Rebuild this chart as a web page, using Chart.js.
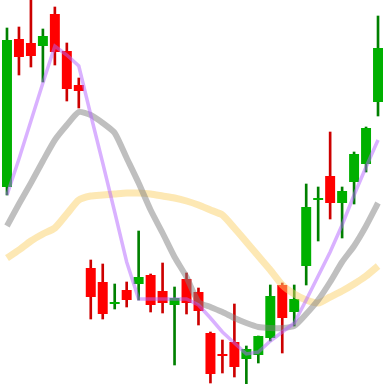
<!DOCTYPE html>
<html>
<head>
<meta charset="utf-8">
<script src="https://cdn.jsdelivr.net/npm/chart.js@4/dist/chart.umd.min.js"></script>
<style>
html,body{margin:0;padding:0;background:#fff;}
#c{display:block;}
</style>
</head>
<body>
<canvas id="c" width="384" height="384"></canvas>
<script>
const labels = Array.from({length: 32}, (_, i) => 'D' + (i + 1));
const opens  = [197,345,341,338,370,333,299,116,102,80,94,100,109,93,79,105,92,51,30,42,25,29,46,99,72,118,184,208,181,202,220,282];
const highs  = [356,357,384,355,377,341,306,124,120,100,102,153,110,121,97,111,96,52,44,80,38,48,99,101,99,200,197,252,197,232,257,368];
const lows   = [189,309,317,302,319,283,276,65,65,75,77,84,72,71,19,70,59,1,11,7,0,21,43,31,58,99,143,165,146,180,212,268];
const closes = [344,327,328,348,332,295,293,87,70,82,84,107,79,81,86,81,73,10,28,17,35,48,88,66,85,177,186,181,193,230,256,336];
const maFast = [189,225,263,301,338,329,318,269,221,172,122,85,85,85,85,85,79,66,52,41,30,32,43,52,61,84,108,132,159,189,217,244];
const maMid  = [158,180,201,223,244,259,272,269,261,251,226,201,174,151,127,107,82,77,72,66,61,57,56,56,58,70,84,102,122,138,158,181];
const maSlow = [126,134,143,150,156,170,184,188,189,190,191,191,190,188,186,183,179,174,169,156,142,128,114,99,90,84,81,87,93,100,108,118];

const up = opens.map((o, i) => closes[i] >= o);
const bodyColors = up.map(u => u ? '#00b000' : '#ff0000');
const wickColors = up.map(u => u ? '#008000' : '#cc0000');

new Chart(document.getElementById('c'), {
  data: {
    labels: labels,
    datasets: [
      {
        type: 'line', label: 'MA slow', data: maSlow, order: 3,
        borderColor: 'rgba(252,210,105,0.5)', borderWidth: 7,
        pointRadius: 0, tension: 0.2, fill: false
      },
      {
        type: 'line', label: 'MA mid', data: maMid, order: 2,
        borderColor: 'rgba(128,128,128,0.5)', borderWidth: 6,
        pointRadius: 0, tension: 0.2, fill: false
      },
      {
        type: 'line', label: 'MA fast', data: maFast, order: 1,
        borderColor: 'rgba(180,100,255,0.5)', borderWidth: 3.5,
        pointRadius: 0, tension: 0, fill: false
      },
      {
        type: 'bar', label: 'wick', order: 5,
        data: lows.map((l, i) => [l, highs[i]]),
        backgroundColor: wickColors, borderWidth: 0,
        barThickness: 2, grouped: false
      },
      {
        type: 'bar', label: 'body', order: 4,
        data: opens.map((o, i) => [o, closes[i]]),
        backgroundColor: bodyColors, borderWidth: 0,
        barPercentage: 10 / 12, categoryPercentage: 1,
        minBarLength: 2, grouped: false
      }
    ]
  },
  options: {
    responsive: false,
    animation: false,
    devicePixelRatio: 1,
    layout: { padding: { left: 1, right: 0, top: 0, bottom: 0 } },
    plugins: { legend: { display: false }, tooltip: { enabled: false } },
    scales: {
      x: { display: false, offset: true, grid: { display: false } },
      y: { display: false, min: 0, max: 384, grid: { display: false } }
    }
  }
});
</script>
</body>
</html>
